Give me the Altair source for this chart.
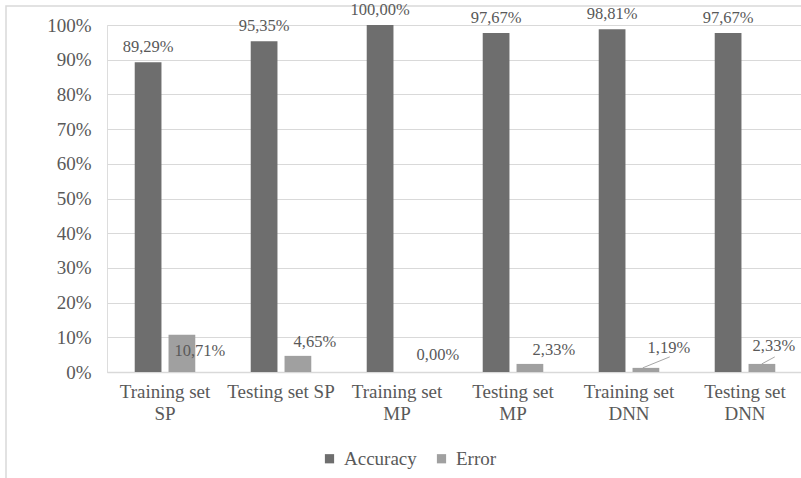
import altair as alt
import pandas as pd

# Model results per data set
categories = [
    "Training set SP", "Testing set SP",
    "Training set MP", "Testing set MP",
    "Training set DNN", "Testing set DNN",
]
accuracy = [89.29, 95.35, 100.00, 97.67, 98.81, 97.67]
error = [10.71, 4.65, 0.00, 2.33, 1.19, 2.33]
series = ["Accuracy", "Error"]

# Hand-placed error labels: pixel nudge (dx, dy) from the bar top centre
error_label_nudge = [(18, 21), (17, -9), (24, -12), (24, -9), (23, -15), (12, -13)]
# Leader lines for the labels that were dragged away: (start dx, start dy, end dx, end dy)
leader_lines = {4: (-3, 0, 24, -11), 5: (0, 0, 13, -7)}

FONT = "Liberation Serif"
TEXT = "#595959"
GRID = "#d9d9d9"
BAR_SHIFT = 16.75  # centre of the Error bar relative to the category centre

def pct(v):
    return f"{v:.2f}%".replace(".", ",")

rows = []
for i, c in enumerate(categories):
    rows.append({"cat": c, "series": "Accuracy", "value": accuracy[i],
                 "label": pct(accuracy[i]), "dx": 0, "dy": -10})
    dx, dy = error_label_nudge[i]
    rows.append({"cat": c, "series": "Error", "value": error[i],
                 "label": pct(error[i]), "dx": dx, "dy": dy})
df = pd.DataFrame(rows)

lead = pd.DataFrame([
    {"cat": categories[i], "value": error[i],
     "sx": BAR_SHIFT + s[0], "sy": s[1], "ex": BAR_SHIFT + s[2], "ey": s[3]}
    for i, s in leader_lines.items()
])

x_scale = alt.Scale(range=[0, 696], paddingInner=0, paddingOuter=0)
x_axis = alt.Axis(
    labelAngle=0, labelFont=FONT, labelFontSize=19, labelColor=TEXT,
    labelLineHeight=22, labelPadding=10, ticks=False,
    domainColor=GRID, domainWidth=1.5, labelLimit=200,
    labelExpr="datum.label == 'Testing set SP' ? datum.label : split(replace(datum.label, ' set ', ' set|'), '|')",
)
x_enc = alt.X("cat:N", sort=categories, title=None, scale=x_scale, axis=x_axis)
y_enc = alt.Y(
    "value:Q", title=None,
    scale=alt.Scale(domain=[0, 100], nice=False),
    axis=alt.Axis(
        values=list(range(0, 101, 10)), labelExpr="datum.value + '%'",
        labelFont=FONT, labelFontSize=19, labelColor=TEXT, labelPadding=16,
        ticks=False, domain=False, gridColor=GRID, gridWidth=1.2,
        labelOverlap=False,
    ),
)
xoff = alt.XOffset(
    "series:N", sort=series,
    scale=alt.Scale(paddingInner=0.209, paddingOuter=0.82),
)

border = alt.Chart(pd.DataFrame({"k": [0]})).mark_rect(
    fill=None, stroke=GRID, strokeWidth=1.5
).encode(
    x=alt.value(-101), y=alt.value(-19), x2=alt.value(900), y2=alt.value(600)
)

bars = alt.Chart(df).mark_bar().encode(
    x=x_enc, y=y_enc, xOffset=xoff,
    color=alt.Color(
        "series:N", sort=series, title=None,
        scale=alt.Scale(domain=series, range=["#6e6e6e", "#a0a0a0"]),
        legend=alt.Legend(
            orient="none", direction="horizontal", legendX=213, legendY=424,
            symbolType="square", symbolSize=85, symbolStrokeWidth=0,
            labelFont=FONT, labelFontSize=19, labelColor=TEXT,
            labelOffset=5, columnPadding=15, padding=0,
        ),
    ),
)

labels = alt.Chart(df).mark_text(
    font=FONT, fontSize=16.5, color=TEXT, baseline="alphabetic", align="center",
    dx=alt.expr("datum.dx"), dy=alt.expr("datum.dy"),
).encode(x=x_enc, y=y_enc, xOffset=xoff, text="label:N")

leaders = alt.Chart(lead).mark_rule(
    color="#a6a6a6", strokeWidth=1,
    xOffset=alt.expr("datum.sx"), x2Offset=alt.expr("datum.ex"),
    yOffset=alt.expr("datum.sy"), y2Offset=alt.expr("datum.ey"),
).encode(
    x=alt.X("cat:N", sort=categories, title=None, scale=x_scale, axis=x_axis,
            bandPosition=0.5),
    x2=alt.X2("cat", bandPosition=0.5),
    y=y_enc, y2="value",
)

chart = alt.layer(border, bars, leaders, labels).properties(
    width=694, height=347,
    autosize=alt.AutoSizeParams(type="none"),
    padding={"left": 107, "top": 25, "right": 0, "bottom": 106},
).configure_view(stroke=None).configure(background="white")

chart.save("out.html", embed_options={"renderer": "svg", "actions": False})
